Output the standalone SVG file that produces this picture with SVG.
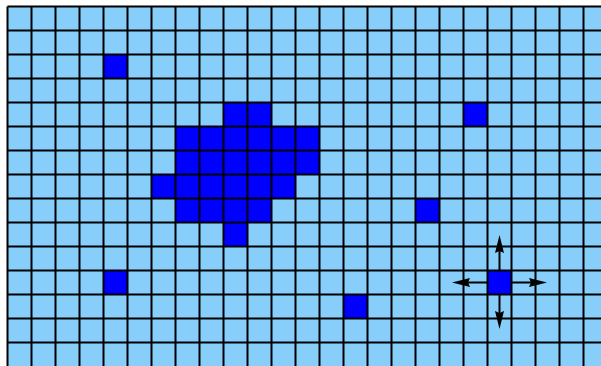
<svg xmlns="http://www.w3.org/2000/svg" width="601" height="366" viewBox="0 0 601 366">
<style>
.bg{fill:#87CEFA}
.on{fill:#0000FF}
.grid{stroke:#000;stroke-width:2;fill:none}
.arr{stroke:#000;stroke-width:2;fill:none}
</style>
<defs>
<marker id="ah" markerUnits="userSpaceOnUse" markerWidth="20" markerHeight="12" refX="8" refY="5" orient="auto">
<path d="M0,0.5 L18,5 L0,9.5 L2,5 z" fill="#000"/>
</marker>
</defs>
<rect width="601" height="366" fill="#fff"/>
<rect class="bg" x="7.5" y="6.5" width="594" height="360"/>
<g id="cells">
<rect class="on" x="103.5" y="54.5" width="24" height="24"/>
<rect class="on" x="223.5" y="102.5" width="48" height="24"/>
<rect class="on" x="175.5" y="126.5" width="144" height="48"/>
<rect class="on" x="151.5" y="174.5" width="144" height="24"/>
<rect class="on" x="175.5" y="198.5" width="96" height="24"/>
<rect class="on" x="223.5" y="222.5" width="24" height="24"/>
<rect class="on" x="463.5" y="102.5" width="24" height="24"/>
<rect class="on" x="415.5" y="198.5" width="24" height="24"/>
<rect class="on" x="103.5" y="270.5" width="24" height="24"/>
<rect class="on" x="343.5" y="294.5" width="24" height="24"/>
<rect class="on" x="487.5" y="270.5" width="24" height="24"/>
</g>
<path class="grid" d="M7.5,6.5V366M31.5,6.5V366M55.5,6.5V366M79.5,6.5V366M103.5,6.5V366M127.5,6.5V366M151.5,6.5V366M175.5,6.5V366M199.5,6.5V366M223.5,6.5V366M247.5,6.5V366M271.5,6.5V366M295.5,6.5V366M319.5,6.5V366M343.5,6.5V366M367.5,6.5V366M391.5,6.5V366M415.5,6.5V366M439.5,6.5V366M463.5,6.5V366M487.5,6.5V366M511.5,6.5V366M535.5,6.5V366M559.5,6.5V366M583.5,6.5V366M7.5,6.5H601M7.5,30.5H601M7.5,54.5H601M7.5,78.5H601M7.5,102.5H601M7.5,126.5H601M7.5,150.5H601M7.5,174.5H601M7.5,198.5H601M7.5,222.5H601M7.5,246.5H601M7.5,270.5H601M7.5,294.5H601M7.5,318.5H601M7.5,342.5H601"/>
<g id="connectors">
<path class="arr" d="M487.5,282.5H462" marker-end="url(#ah)"/>
<path class="arr" d="M511.5,282.5H537" marker-end="url(#ah)"/>
<path class="arr" d="M499.5,270.5V245" marker-end="url(#ah)"/>
<path class="arr" d="M499.5,294.5V319" marker-end="url(#ah)"/>
</g>
</svg>
